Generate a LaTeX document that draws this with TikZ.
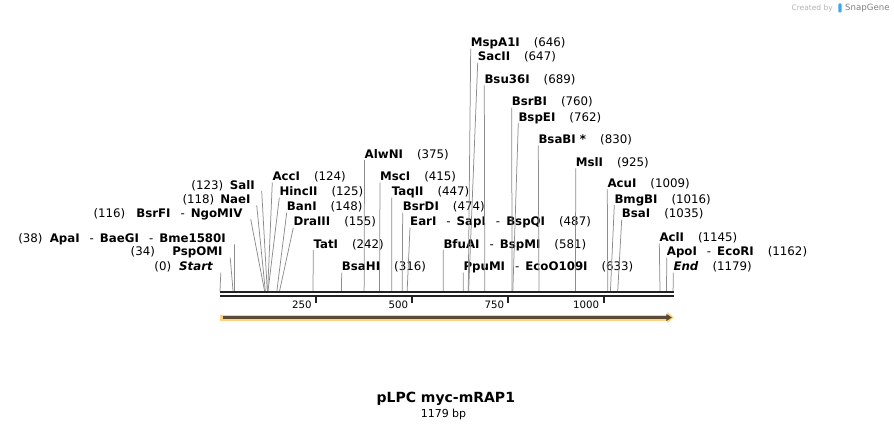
\documentclass[tikz,border=0pt]{standalone}
\usepackage{fontspec}
\setmainfont{DejaVu Sans}
\usepackage{tikz}
\usetikzlibrary{arrows.meta, calc}
\definecolor{snapDark}{HTML}{222222}
\definecolor{snapGray}{HTML}{8C8C8C}
\definecolor{snapOrange}{HTML}{FFD27F}
\definecolor{snapBrown}{HTML}{5A4A36}
\definecolor{snapBlue}{HTML}{3AA8E8}
\definecolor{creditGray}{HTML}{B4B4B4}
\newcommand{\cutsep}{\hspace{10pt}-\hspace{6pt}}
\newcommand{\numgap}{\hspace{14pt}}

\begin{document}
\begin{tikzpicture}[
    x=1pt, y=-1pt,
    % --- estilos del mapa ---
    site/.style={inner sep=0pt, text height=8.6pt, text depth=0pt,
                 font=\fontsize{11.8}{14}\selectfont},
    rsite/.style={site, anchor=west},
    lsite/.style={site, anchor=east},
    leader/.style={snapGray, line width=0.75pt},
    backbone/.style={snapDark, line width=2.4pt},
    tick/.style={snapDark, line width=1.8pt},
    ticklabel/.style={anchor=east, inner sep=0pt, font=\fontsize{10.2}{12}\selectfont},
    featband/.style={snapOrange, line width=6pt, -{Triangle[length=6.5pt,width=11pt]}},
    featline/.style={snapBrown, line width=2.2pt, -{Triangle[length=5.5pt,width=7pt]}},
    title/.style={font=\bfseries\fontsize{14}{16}\selectfont, inner sep=0pt},
    subtitle/.style={font=\fontsize{11}{13}\selectfont, inner sep=0pt},
    credit/.style={creditGray, inner sep=0pt, font=\fontsize{7.5}{9}\selectfont}
]
\useasboundingbox (0,0) rectangle (894,430);

% ====== Puntos de corte sobre el esqueleto ======
\coordinate (cut0)    at ({220+0.3843*0},291);
\coordinate (cut34)   at ({220+0.3843*34},291);
\coordinate (cut38)   at ({220+0.3843*38},291);
\coordinate (cut116)  at ({220+0.3843*116},291);
\coordinate (cut118)  at ({220+0.3843*118},291);
\coordinate (cut123)  at ({220+0.3843*123},291);
\coordinate (cut124)  at ({220+0.3843*124},291);
\coordinate (cut125)  at ({220+0.3843*125},291);
\coordinate (cut148)  at ({220+0.3843*148},291);
\coordinate (cut155)  at ({220+0.3843*155},291);
\coordinate (cut242)  at ({220+0.3843*242},291);
\coordinate (cut316)  at ({220+0.3843*316},291);
\coordinate (cut375)  at ({220+0.3843*375},291);
\coordinate (cut415)  at ({220+0.3843*415},291);
\coordinate (cut447)  at ({220+0.3843*447},291);
\coordinate (cut474)  at ({220+0.3843*474},291);
\coordinate (cut487)  at ({220+0.3843*487},291);
\coordinate (cut581)  at ({220+0.3843*581},291);
\coordinate (cut633)  at ({220+0.3843*633},291);
\coordinate (cut646)  at ({220+0.3843*646},291);
\coordinate (cut647)  at ({220+0.3843*647},291);
\coordinate (cut689)  at ({220+0.3843*689},291);
\coordinate (cut760)  at ({220+0.3843*760},291);
\coordinate (cut762)  at ({220+0.3843*762},291);
\coordinate (cut830)  at ({220+0.3843*830},291);
\coordinate (cut925)  at ({220+0.3843*925},291);
\coordinate (cut1009) at ({220+0.3843*1009},291);
\coordinate (cut1016) at ({220+0.3843*1016},291);
\coordinate (cut1035) at ({220+0.3843*1035},291);
\coordinate (cut1145) at ({220+0.3843*1145},291);
\coordinate (cut1162) at ({220+0.3843*1162},291);
\coordinate (cut1179) at ({220+0.3843*1179},291);

% ====== Sitios a la izquierda ======
\node[lsite] (Start)  at (213.3,266.7) {(0)\hspace{8pt}\textbf{\textit{Start}}};
\node[lsite] (PspOMI) at (222.7,251.7) {(34)\hspace{17.5pt}\textbf{PspOMI}};
\node[lsite] (ApaI)   at (226,238.3)   {(38)\hspace{7.3pt}\textbf{ApaI}\cutsep\textbf{BaeGI}\cutsep\textbf{Bme1580I}};
\node[lsite] (BsrFI)  at (242.7,213.3) {(116)\hspace{11pt}\textbf{BsrFI}\cutsep\textbf{NgoMIV}};
\node[lsite] (NaeI)   at (250.7,199.3) {(118)\hspace{6pt}\textbf{NaeI}};
\node[lsite] (SalI)   at (255,185)     {(123)\hspace{6.7pt}\textbf{SalI}};

\draw[leader] ([xshift=7.5pt,yshift=-1.5pt]Start.south east)  -- (cut0);
\draw[leader] ([xshift=7.5pt,yshift=-1.5pt]PspOMI.south east) -- (cut34);
\draw[leader] ([xshift=8.5pt,yshift=-1.5pt]ApaI.south east)   -- (cut38);
\draw[leader] ([xshift=8pt,yshift=-1.5pt]BsrFI.south east)    -- (cut116);
\draw[leader] ([xshift=6pt,yshift=-1.5pt]NaeI.south east)     -- (cut118);
\draw[leader] ([xshift=6.7pt,yshift=-1.5pt]SalI.south east)   -- (cut123);

% ====== Sitios a la derecha ======
\node[rsite] (AccI)    at (272.3,176.5) {\textbf{AccI}\numgap(124)};
\node[rsite] (HincII)  at (279.3,191.7) {\textbf{HincII}\numgap(125)};
\node[rsite] (BanI)    at (286.7,206.7) {\textbf{BanI}\numgap(148)};
\node[rsite] (DraIII)  at (293.3,221.7) {\textbf{DraIII}\numgap(155)};
\node[rsite] (TatI)    at (313.3,244)   {\textbf{TatI}\numgap(242)};
\node[rsite] (BsaHI)   at (341.7,266.7) {\textbf{BsaHI}\numgap(316)};
\node[rsite] (AlwNI)   at (364.5,154)   {\textbf{AlwNI}\numgap(375)};
\node[rsite] (MscI)    at (380,176.7)   {\textbf{MscI}\numgap(415)};
\node[rsite] (TaqII)   at (391.7,191.7) {\textbf{TaqII}\numgap(447)};
\node[rsite] (BsrDI)   at (402.7,206.7) {\textbf{BsrDI}\numgap(474)};
\node[rsite] (EarI)    at (410,221.7)   {\textbf{EarI}\cutsep\textbf{SapI}\cutsep\textbf{BspQI}\numgap(487)};
\node[rsite] (BfuAI)   at (443.3,244)   {\textbf{BfuAI}\cutsep\textbf{BspMI}\numgap(581)};
\node[rsite] (PpuMI)   at (463.3,266.7) {\textbf{PpuMI}\cutsep\textbf{EcoO109I}\numgap(633)};
\node[rsite] (MspA1I)  at (470.7,42.7)  {\textbf{MspA1I}\numgap(646)};
\node[rsite] (SacII)   at (477.7,56.7)  {\textbf{SacII}\numgap(647)};
\node[rsite] (Bsu36I)  at (484.3,79.5)  {\textbf{Bsu36I}\numgap(689)};
\node[rsite] (BsrBI)   at (511.7,101.7) {\textbf{BsrBI}\numgap(760)};
\node[rsite] (BspEI)   at (518.3,117)   {\textbf{BspEI}\numgap(762)};
\node[rsite] (BsaBI)   at (538.3,139.3) {\textbf{BsaBI *}\numgap(830)};
\node[rsite] (MslI)    at (575.7,162.3) {\textbf{MslI}\numgap(925)};
\node[rsite] (AcuI)    at (607.3,183.3) {\textbf{AcuI}\numgap(1009)};
\node[rsite] (BmgBI)   at (614.3,199)   {\textbf{BmgBI}\numgap(1016)};
\node[rsite] (BsaI)    at (621.7,213.7) {\textbf{BsaI}\numgap(1035)};
\node[rsite] (AclI)    at (659.3,237.3) {\textbf{AclI}\numgap(1145)};
\node[rsite] (ApoI)    at (666.7,251.7) {\textbf{ApoI}\cutsep\textbf{EcoRI}\numgap(1162)};
\node[rsite] (End)     at (673.3,266.7) {\textbf{\textit{End}}\numgap(1179)};

\draw[leader] ([yshift=-1.5pt]AccI.south west)   -- (cut124);
\draw[leader] ([yshift=-1.5pt]HincII.south west) -- (cut125);
\draw[leader] ([yshift=-1.5pt]BanI.south west)   -- (cut148);
\draw[leader] ([yshift=-1.5pt]DraIII.south west) -- (cut155);
\draw[leader] ([yshift=-1.5pt]TatI.south west)   -- (cut242);
\draw[leader] ([yshift=-1.5pt]BsaHI.south west)  -- (cut316);
\draw[leader] ([yshift=-1.5pt]AlwNI.south west)  -- (cut375);
\draw[leader] ([yshift=-1.5pt]MscI.south west)   -- (cut415);
\draw[leader] ([yshift=-1.5pt]TaqII.south west)  -- (cut447);
\draw[leader] ([yshift=-1.5pt]BsrDI.south west)  -- (cut474);
\draw[leader] ([yshift=-1.5pt]EarI.south west)   -- (cut487);
\draw[leader] ([yshift=-1.5pt]BfuAI.south west)  -- (cut581);
\draw[leader] ([yshift=-1.5pt]PpuMI.south west)  -- (cut633);
\draw[leader] ([yshift=-1.5pt]MspA1I.south west) -- (cut646);
\draw[leader] ([yshift=-1.5pt]SacII.south west)  -- (cut647);
\draw[leader] ([yshift=-1.5pt]Bsu36I.south west) -- (cut689);
\draw[leader] ([yshift=-1.5pt]BsrBI.south west)  -- (cut760);
\draw[leader] ([yshift=-1.5pt]BspEI.south west)  -- (cut762);
\draw[leader] ([yshift=-1.5pt]BsaBI.south west)  -- (cut830);
\draw[leader] ([yshift=-1.5pt]MslI.south west)   -- (cut925);
\draw[leader] ([yshift=-1.5pt]AcuI.south west)   -- (cut1009);
\draw[leader] ([yshift=-1.5pt]BmgBI.south west)  -- (cut1016);
\draw[leader] ([yshift=-1.5pt]BsaI.south west)   -- (cut1035);
\draw[leader] ([yshift=-1.5pt]AclI.south west)   -- (cut1145);
\draw[leader] ([yshift=-1.5pt]ApoI.south west)   -- (cut1162);
\draw[leader] ([yshift=-1.5pt]End.south west)    -- (cut1179);

% ====== Esqueleto y regla ======
\draw[backbone] (220,292.2) -- (673.6,292.2);
\draw[backbone] (220,296.2) -- (673.6,296.2);

\draw[tick] (316.1,297) -- (316.1,303.5);
\draw[tick] (412.2,297) -- (412.2,303.5);
\draw[tick] (508.2,297) -- (508.2,303.5);
\draw[tick] (604.3,297) -- (604.3,303.5);
\node[ticklabel] (t250)  at (311.7,304.5) {250};
\node[ticklabel] (t500)  at (408.3,304.5) {500};
\node[ticklabel] (t750)  at (504.3,304.5) {750};
\node[ticklabel] (t1000) at (599.2,304.5) {1000};

% ====== Rasgo (flecha naranja) ======
\coordinate (featL) at (220,317.5);
\coordinate (featR) at (673.8,317.5);
\draw[featband] (featL) -- (featR);
\draw[featline] ([xshift=2.5pt]featL) -- ([xshift=-2pt]featR);

% ====== Título ======
\node[title] (plasmid) at (445.8,398.5) {pLPC myc-mRAP1};
\node[subtitle] (bplen) at (443.5,414.3) {1179 bp};

% --- crédito ---
\node[credit, anchor=east] (createdby) at (833,8) {Created by};
\node[fill=snapBlue, inner sep=0pt, minimum width=3.2pt, minimum height=9pt,
      rounded corners=1pt] (logo) at (840,8) {};
\node[credit, anchor=west, gray, font=\fontsize{8.6}{10}\selectfont] (snapgene) at (845,8) {SnapGene};

\end{tikzpicture}
\end{document}
